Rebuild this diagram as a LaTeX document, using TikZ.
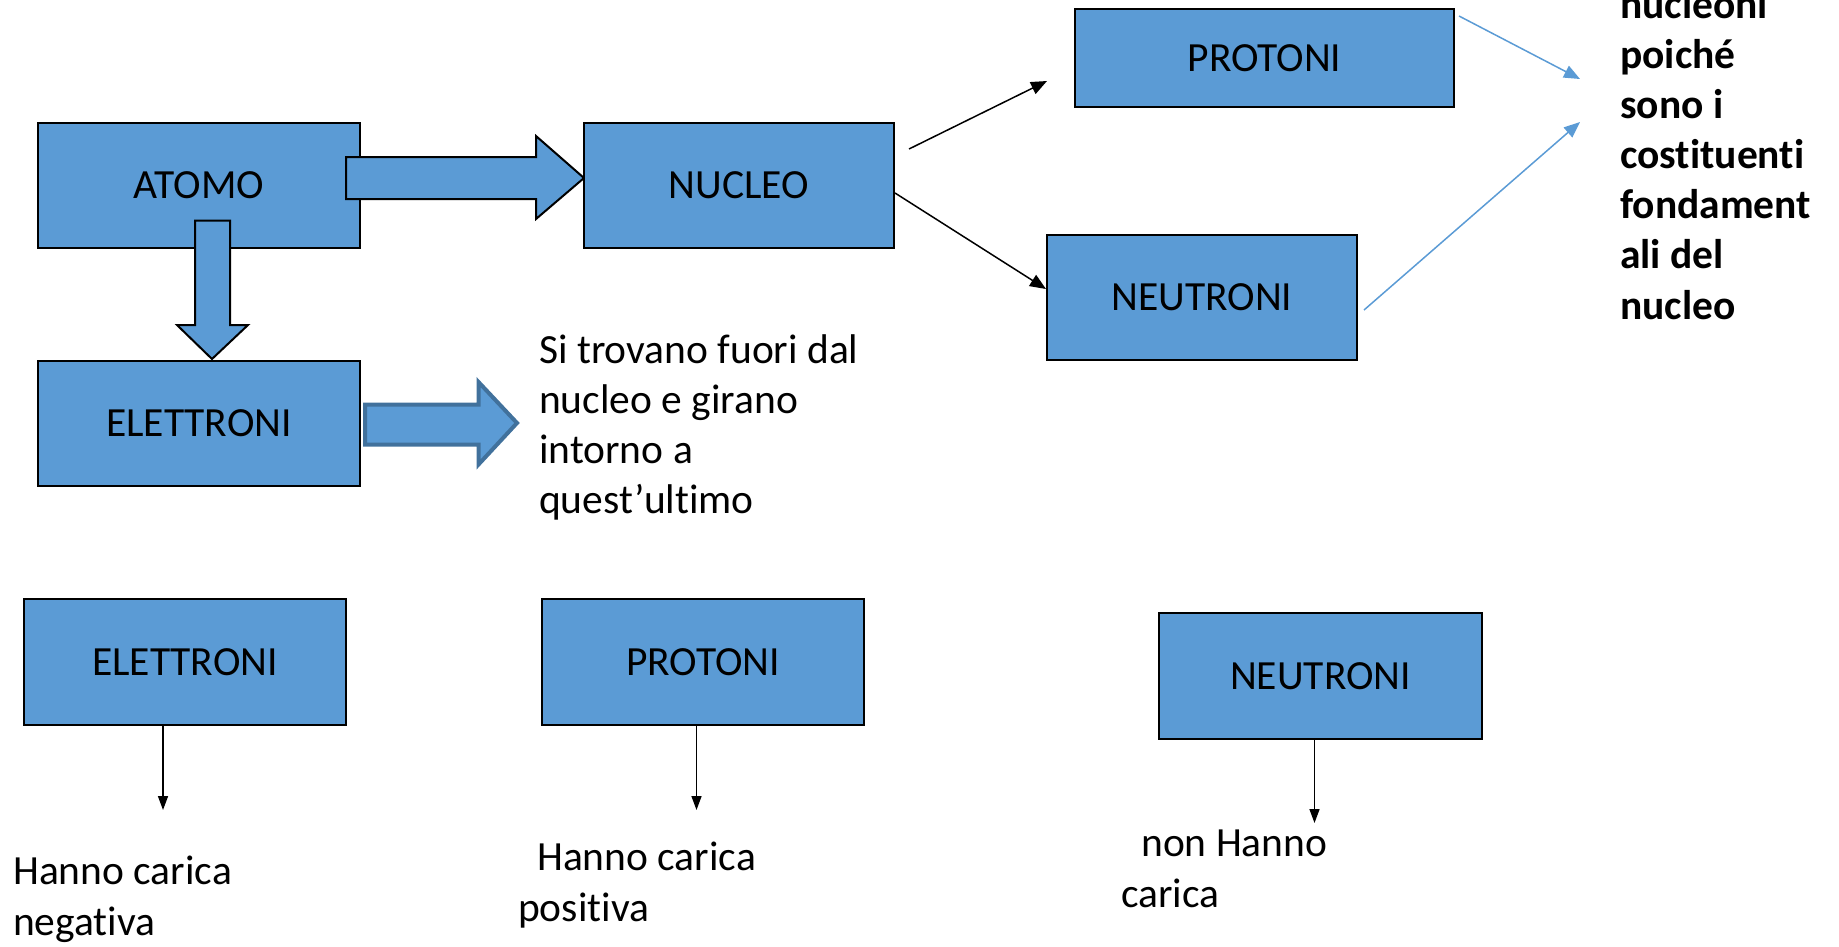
\documentclass[tikz,border=0pt]{standalone}
\usepackage{fontspec}
\setmainfont{Carlito}[Ligatures=NoCommon]
\usetikzlibrary{arrows.meta,calc}
\definecolor{boxblue}{HTML}{5B9BD5}
\definecolor{edgeblue}{HTML}{41719C}
\begin{document}
\begin{tikzpicture}[x=1pt,y=-1pt,
  lbl/.style={font=\fontsize{41.5}{50}\selectfont},
  box/.style={draw=black, fill=boxblue, line width=2pt, inner sep=0pt, minimum height=125pt, lbl},
  txt/.style={lbl, anchor=base west, inner sep=0pt},
  btxt/.style={anchor=base west, inner sep=0pt, font=\fontsize{41.5}{50}\selectfont\bfseries},
  blockarrow/.style={fill=boxblue, draw=black, line width=2pt, line join=miter},
  thinarrow/.style={line width=1.5pt, -{Triangle[length=16pt,width=13pt]}},
  bluearrow/.style={thinarrow, draw=boxblue, fill=boxblue},
  downarrow/.style={line width=1.5pt, -{Triangle[length=14pt,width=10pt]}}
]
\useasboundingbox (0,0) rectangle (1839,946);

% top part
\node[box, minimum width=322pt] (atomo) at (199,185) {ATOMO};
\draw[blockarrow] (346,157) -- (536,157) -- (536,136) -- (584,178) -- (536,219) -- (536,199) -- (346,199) -- cycle;
\draw[blockarrow] (195,220.5) -- (230,220.5) -- (230,325) -- (248,325) -- (212,359) -- (177,325) -- (195,325) -- cycle;
\node[box, minimum width=310pt] (nucleo) at (739,185) {NUCLEO};
\node[box, minimum width=322pt] (elettroni) at (199,423) {ELETTRONI};
\draw[fill=boxblue, draw=edgeblue, line width=4pt, line join=miter]
  (365,404.5) -- (478.5,404.5) -- (478.5,382) -- (517,423) -- (478.5,464.5) -- (478.5,444.5) -- (365,444.5) -- cycle;

\node[box, minimum width=379pt, minimum height=98pt] (protoni) at (1264.5,58) {PROTONI};
\node[box, minimum width=310pt] (neutroni) at (1202,297) {NEUTRONI};

\draw[thinarrow] ($(nucleo.east)+(14,-36)$) -- ($(protoni.west)+(-27,23)$);
\draw[thinarrow] ($(nucleo.east)+(0,8)$) -- ($(neutroni.west)+(0,-8)$);

\coordinate (tipA) at (1580,79);
\coordinate (tipB) at (1580,122);
\draw[bluearrow] ($(protoni.north east)+(4,8)$) -- (tipA);
\draw[bluearrow] ($(neutroni.east)+(6,13)$) -- (tipB);

\node[txt] (s1) at (539,363) {Si trovano fuori dal};
\node[txt] (s2) at (539,413) {nucleo e girano};
\node[txt] (s3) at (539,463) {intorno a};
\node[txt] (s4) at (539,513) {quest’ultimo};

\node[btxt] (r0) at (1620,18) {nucleoni};
\node[btxt] (r1) at (1620,68.5) {poiché};
\node[btxt] (r2) at (1620,118.5) {sono i};
\node[btxt] (r3) at (1620,168.5) {costituenti};
\node[btxt] (r4) at (1620,218.5) {fondament};
\node[btxt] (r5) at (1620,268.5) {ali del};
\node[btxt] (r6) at (1620,319) {nucleo};

% bottom part
\node[box, minimum width=322pt, minimum height=126pt] (belet) at (185,662) {ELETTRONI};
\node[box, minimum width=322pt, minimum height=126pt] (bprot) at (703,662) {PROTONI};
\node[box, minimum width=323pt, minimum height=126pt] (bneut) at (1320.5,676) {NEUTRONI};

\coordinate (ea) at (163,810);
\coordinate (pa) at (696.5,810);
\coordinate (na) at (1314.5,823);
\draw[downarrow] (belet.south -| ea) -- (ea);
\draw[downarrow] (bprot.south -| pa) -- (pa);
\draw[downarrow] (bneut.south -| na) -- (na);

\node[txt] (e1) at (13,884) {Hanno carica};
\node[txt] (e2) at (13,935) {negativa};
\node[txt] (p1) at (537,870) {Hanno carica};
\node[txt] (p2) at (518,921) {positiva};
\node[txt] (n1) at (1141,856) {non Hanno};
\node[txt] (n2) at (1121,907) {carica};
\end{tikzpicture}
\end{document}
